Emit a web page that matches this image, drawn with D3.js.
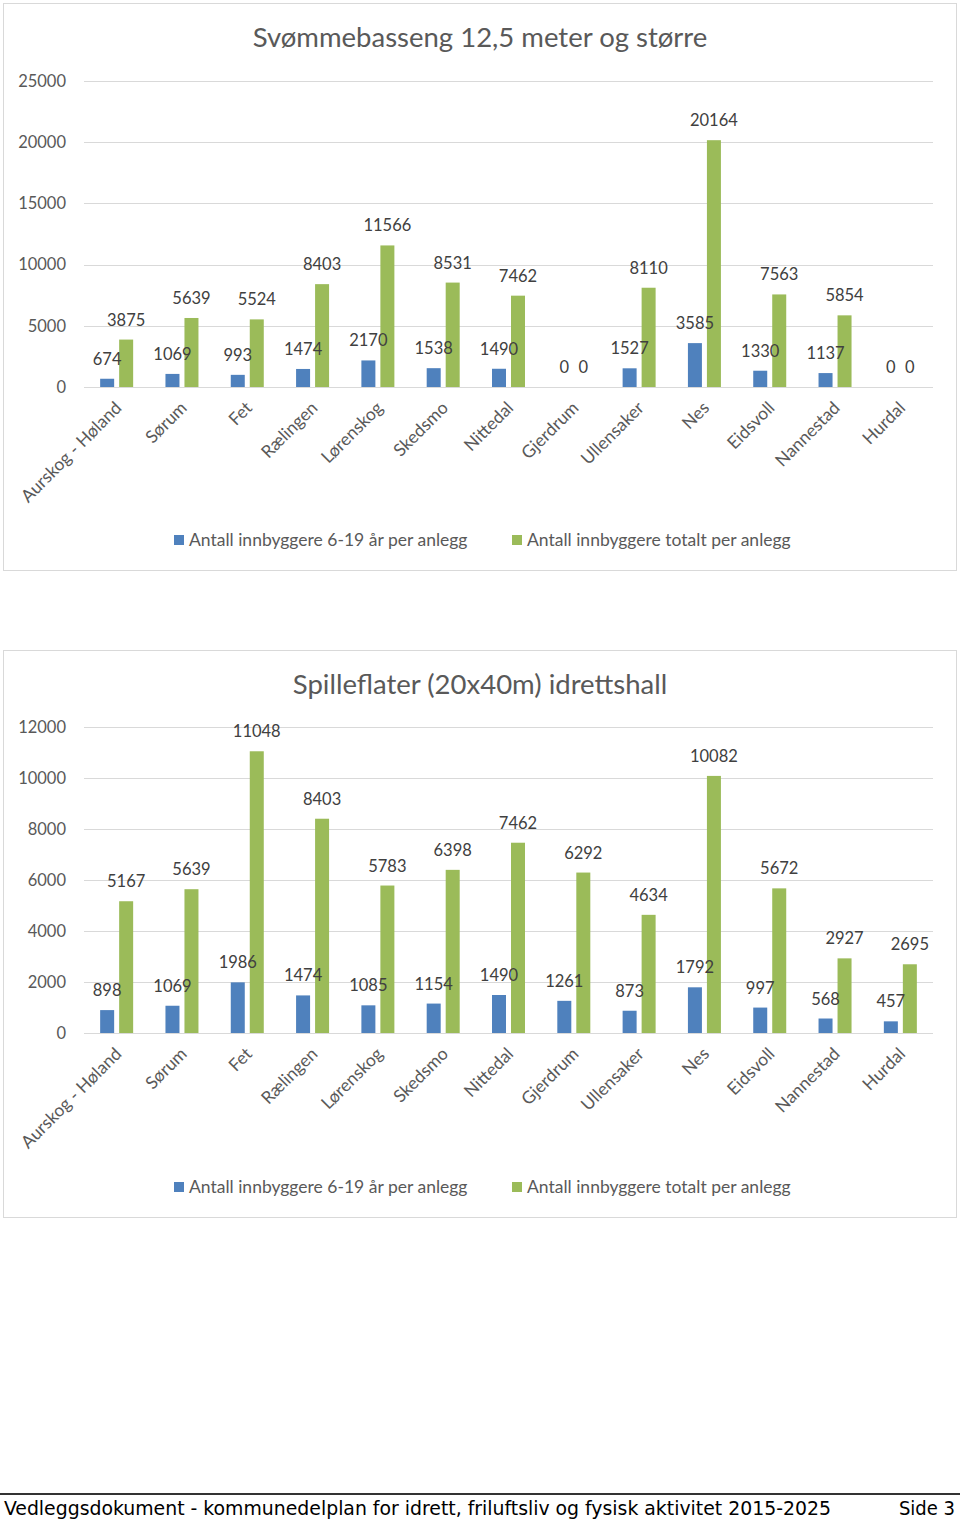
<!DOCTYPE html>
<html>
<head>
<meta charset="utf-8">
<script src="https://cdn.jsdelivr.net/npm/d3@7"></script>
<style>
  html, body { margin: 0; padding: 0; background: #fff; }
  svg { display: block; }
</style>
</head>
<body>
<svg id="page" width="960" height="1521"></svg>
<script>
const categories = ["Aurskog - Høland", "Sørum", "Fet", "Rælingen", "Lørenskog", "Skedsmo", "Nittedal", "Gjerdrum", "Ullensaker", "Nes", "Eidsvoll", "Nannestad", "Hurdal"];
const seriesNames = ["Antall innbyggere 6-19 år per anlegg", "Antall innbyggere totalt per anlegg"];

const title1 = "Svømmebasseng 12,5 meter og større";
const youth1 = [674, 1069, 993, 1474, 2170, 1538, 1490, 0, 1527, 3585, 1330, 1137, 0];
const total1 = [3875, 5639, 5524, 8403, 11566, 8531, 7462, 0, 8110, 20164, 7563, 5854, 0];
const ticks1 = [0, 5000, 10000, 15000, 20000, 25000];

const title2 = "Spilleflater (20x40m) idrettshall";
const youth2 = [898, 1069, 1986, 1474, 1085, 1154, 1490, 1261, 873, 1792, 997, 568, 457];
const total2 = [5167, 5639, 11048, 8403, 5783, 6398, 7462, 6292, 4634, 10082, 5672, 2927, 2695];
const ticks2 = [0, 2000, 4000, 6000, 8000, 10000, 12000];

const footerText = "Vedleggsdokument - kommunedelplan for idrett, friluftsliv og fysisk aktivitet 2015-2025";
const footerPage = "Side 3";

const colors = ["#4f81bd", "#9bbb59"];
const FONT = "Lato, 'Open Sans', sans-serif";

const svg = d3.select("#page");

function drawChart(opts) {
  const g = svg.append("g").attr("transform", `translate(0,${opts.top})`);
  g.append("rect").attr("x", 3.5).attr("y", 3.5).attr("width", 953).attr("height", 567)
    .attr("fill", "#fff").attr("stroke", "#d9d9d9").attr("stroke-width", 1);

  g.append("text").attr("x", 480).attr("y", opts.titleY)
    .attr("text-anchor", "middle").attr("font-family", FONT).attr("font-size", 27.5)
    .attr("fill", "#595959").text(opts.title);

  const x0 = d3.scaleBand().domain(categories).range([84, 933]);
  const y = d3.scaleLinear().domain([0, opts.ticks[opts.ticks.length - 1]]).range([opts.y0, opts.yTop]);

  g.append("g").selectAll("line").data(opts.ticks).join("line")
    .attr("x1", 84).attr("x2", 933)
    .attr("y1", d => Math.round(y(d)) + 0.5).attr("y2", d => Math.round(y(d)) + 0.5)
    .attr("stroke", "#d9d9d9").attr("stroke-width", 1);

  const yAxis = d3.axisLeft(y).tickValues(opts.ticks).tickSize(0).tickPadding(0).tickFormat(d3.format("d"));
  const ya = g.append("g").attr("transform", "translate(66,0)").call(yAxis);
  ya.select(".domain").remove();
  ya.selectAll("text").attr("font-family", FONT).attr("font-size", 16.5).attr("fill", "#595959");

  const barW = 14, gap = 5;
  const offsets = [-(barW + gap) / 2, (barW + gap) / 2];
  const series = [opts.youth, opts.total];
  const cx = (c, si) => x0(c) + x0.bandwidth() / 2 + offsets[si];

  const barsG = g.append("g");
  const labelsG = g.append("g");
  series.forEach((vals, si) => {
    barsG.append("g").selectAll("rect").data(vals).join("rect")
      .attr("x", (d, i) => cx(categories[i], si) - barW / 2)
      .attr("width", barW)
      .attr("y", d => y(d))
      .attr("height", d => opts.y0 - y(d))
      .attr("fill", colors[si]);
    labelsG.append("g").selectAll("text").data(vals).join("text")
      .attr("x", (d, i) => cx(categories[i], si))
      .attr("y", d => y(d) - 14)
      .attr("text-anchor", "middle")
      .attr("font-family", FONT).attr("font-size", 16.5).attr("fill", "#404040")
      .text(d => d);
  });

  g.append("g").selectAll("text").data(categories).join("text")
    .attr("transform", c => `translate(${x0(c) + x0.bandwidth() / 2 + 6},${opts.y0 + 22}) rotate(-45)`)
    .attr("text-anchor", "end")
    .attr("font-family", FONT).attr("font-size", 17.5).attr("fill", "#595959")
    .text(c => c);

  const leg = g.append("g");
  const legItems = [{ x: 174, name: seriesNames[0], c: colors[0] }, { x: 512, name: seriesNames[1], c: colors[1] }];
  legItems.forEach(it => {
    leg.append("rect").attr("x", it.x).attr("y", opts.legY - 5).attr("width", 10).attr("height", 10).attr("fill", it.c);
    leg.append("text").attr("x", it.x + 15).attr("y", opts.legY + 6)
      .attr("font-family", FONT).attr("font-size", 17.5).attr("fill", "#595959").text(it.name);
  });
}

drawChart({ top: 0, title: title1, titleY: 47, youth: youth1, total: total1, ticks: ticks1, y0: 387, yTop: 81, legY: 540 });
drawChart({ top: 647, title: title2, titleY: 47, youth: youth2, total: total2, ticks: ticks2, y0: 1033 - 647, yTop: 727 - 647, legY: 540 });

svg.append("line").attr("x1", 0).attr("x2", 960).attr("y1", 1494).attr("y2", 1494)
  .attr("stroke", "#333").attr("stroke-width", 2);
svg.append("text").attr("x", 4).attr("y", 1515)
  .attr("font-family", "'DejaVu Sans Condensed', 'DejaVu Sans', sans-serif").attr("font-size", 20)
  .attr("fill", "#000").attr("textLength", 827).attr("lengthAdjust", "spacingAndGlyphs").text(footerText);
svg.append("text").attr("x", 955).attr("y", 1515).attr("text-anchor", "end")
  .attr("font-family", "'DejaVu Sans Condensed', 'DejaVu Sans', sans-serif").attr("font-size", 20)
  .attr("fill", "#000").text(footerPage);
</script>
</body>
</html>
